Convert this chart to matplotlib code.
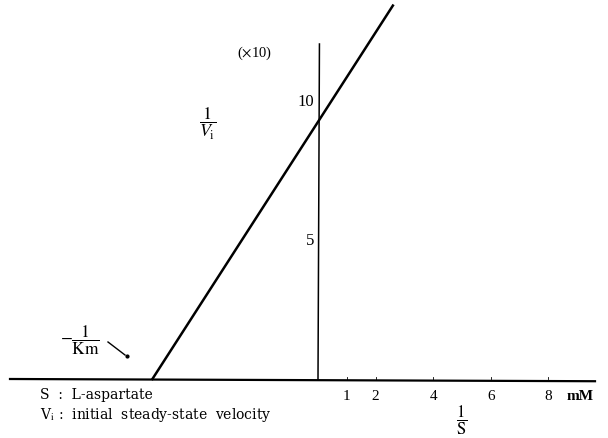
import matplotlib.pyplot as plt
import numpy as np

plt.rcParams['font.family'] = ['Liberation Serif', 'DejaVu Serif']
plt.rcParams['mathtext.fontset'] = 'stix'

# double reciprocal plot, 1/v vs 1/[S]
x_ticks = [1, 2, 4, 6, 8]
y_ticks = [5, 10]
neg_inv_km = -5.75      # x-intercept, -1/Km
inv_vmax = 9.25         # y-intercept, 1/Vmax (x10)
x_end = 2.6             # right end of the fitted line

line_x = np.array([neg_inv_km, x_end])
line_y = inv_vmax + inv_vmax / -neg_inv_km * line_x

# pixel scale of the plot: 28.8 px per unit in x, 27.8 px per unit in y
sx, sy = 28.8, 27.8
x0, y0 = 318, 380

def px(x):
    return (x - x0) / sx

def py(y):
    return (y0 - y) / sy

fig = plt.figure(figsize=(6.08, 4.39), dpi=100)
ax = fig.add_axes([0, 0, 1, 1])
ax.set_xlim(px(0), px(608))
ax.set_ylim(py(439), py(0))
ax.axis('off')

# axes drawn by hand
ax.plot([px(10), px(595)], [0, -0.08], color='black', lw=1.6)
ax.plot([0, 0.05], [0, py(45)], color='black', lw=1.1)

ax.plot(line_x, line_y, color='black', lw=1.8)

for t in x_ticks:
    ax.plot([t, t], [0, 0.08], color='black', lw=0.6)
    ax.text(t, -0.58, str(t), ha='center', va='center', fontsize=11)
ax.text(9.1, -0.58, 'mM', ha='center', va='center', fontsize=11, fontweight='bold')

for t in y_ticks:
    ax.text(-0.12, t, str(t), ha='right', va='center', fontsize=12)
ax.text(px(255), py(53), r'($\times$10)', ha='center', va='center', fontsize=10.5)

ax.text(px(208), py(124), r'$\dfrac{1}{V_{\rm i}}$', ha='center', va='center', fontsize=13)
ax.text(px(462), py(420), r'$\dfrac{1}{\rm S}$', ha='center', va='center', fontsize=12)

ax.text(px(80), py(340), r'$-\dfrac{1}{\rm Km}$', ha='center', va='center', fontsize=12.5)
ax.plot([px(108), px(125)], [py(343), py(356)], color='black', lw=1.0)
ax.plot([px(127)], [py(357)], 'o', color='black', ms=2)

ax.text(px(40), py(395), 'S  :  L-aspartate', ha='left', va='center', fontsize=10,
        family='DejaVu Serif')
ax.text(px(40), py(415), r'V$_{\rm i}$ :  initial  steady-state  velocity', ha='left',
        va='center', fontsize=10, family='DejaVu Serif')

fig.savefig('out.png', dpi=100)
